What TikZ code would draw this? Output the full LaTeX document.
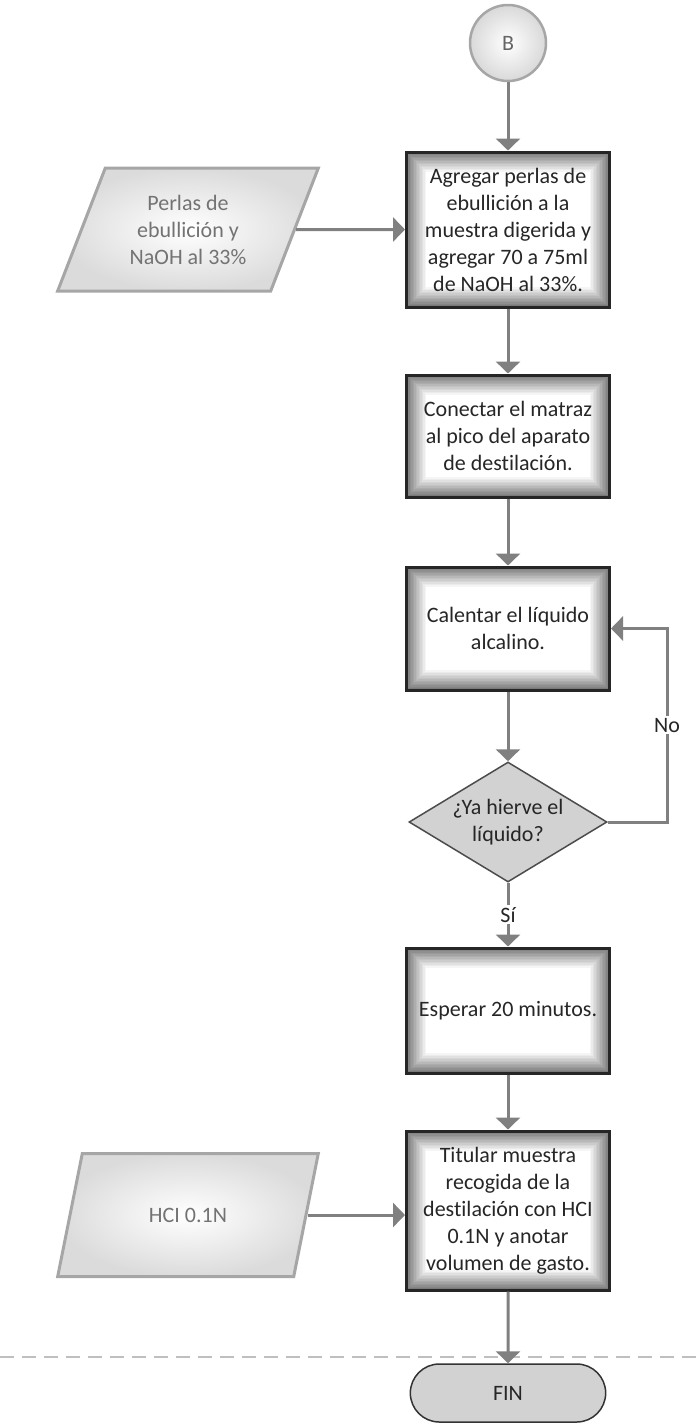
\documentclass[tikz,border=0pt]{standalone}
\usepackage{fontspec}
\setmainfont[Ligatures={NoCommon}]{Carlito}
\usetikzlibrary{arrows.meta,shapes.geometric,shapes.misc}

\begin{document}
\begin{tikzpicture}[x=1pt,y=-1pt,
    font=\fontsize{22}{27}\selectfont,
    flow/.style={draw=gray, line width=3pt, -{Triangle[length=12pt,width=24pt]}},
    proc/.style={rectangle, draw=black!85, line width=3pt, fill=white, minimum width=203pt,
        align=center, text=black!85, inner sep=0pt,
        path picture={\foreach \k [evaluate=\k as \shd using {int(52-4*\k)}] in {0,...,12}
            \draw[black!\shd, line width=1.6pt]
              ([shift={(\k*1.5pt+1pt,\k*1.5pt+1pt)}]path picture bounding box.south west) rectangle
              ([shift={(-\k*1.5pt-1pt,-\k*1.5pt-1pt)}]path picture bounding box.north east);}},
    inp/.style={trapezium, trapezium left angle=65, trapezium right angle=115, trapezium stretches=true,
        minimum width=261pt, minimum height=123pt, draw=gray!70, line width=3pt,
        inner color=white, outer color=gray!28, text=black!55, align=center},
    decision/.style={diamond, aspect=1.65, draw=black!70, line width=1.5pt, fill=gray!35,
        minimum width=198pt, minimum height=120pt, inner xsep=-6pt, inner ysep=0pt, align=center, text=black!85},
    term/.style={rounded rectangle, draw=black!80, line width=1.5pt, fill=gray!35,
        minimum width=202pt, minimum height=58pt, text=black!85},
    conn/.style={circle, minimum size=76pt, draw=gray!70, line width=2.5pt,
        inner color=white, outer color=gray!30, text=black!60},
    tag/.style={fill=white, inner sep=2pt, text=black!85}]
    \useasboundingbox (0,0) rectangle (698,1425);

    \node[conn] (conB) at (508,43) {B};
    \node[proc, minimum height=155pt] (perlas) at (508,229.5) {Agregar perlas de\\ebullición a la\\muestra digerida y\\agregar 70 a 75ml\\de NaOH al 33\%.};
    \node[inp] (inPerlas) at (188,229.5) {Perlas de\\ebullición y\\NaOH al 33\%};
    \node[proc, minimum height=122pt] (matraz) at (508,436) {Conectar el matraz\\al pico del aparato\\de destilación.};
    \node[proc, minimum height=123pt] (calentar) at (508,628.5) {Calentar el líquido\\alcalino.};
    \node[decision] (hierve) at (508,822) {¿Ya hierve el\\líquido?};
    \node[proc, minimum height=125pt] (esperar) at (508,1010.5) {Esperar 20 minutos.};
    \node[proc, minimum height=159pt] (titular) at (508,1210.5) {Titular muestra\\recogida de la\\destilación con HCI\\0.1N y anotar\\volumen de gasto.};
    \node[inp] (inHCl) at (188,1215) {HCI 0.1N};
    \node[term] (fin) at (508,1393) {FIN};

    \draw[gray!50, line width=1.5pt, dash pattern=on 14pt off 8pt] (0,1357) -- (698,1357);

    \draw[flow] (conB) -- (perlas);
    \draw[flow] (inPerlas.east) -- (perlas.west);
    \draw[flow] (perlas) -- (matraz);
    \draw[flow] (matraz) -- (calentar);
    \draw[flow] (calentar) -- (hierve);
    \draw[flow] (hierve.east) -- (667,822) |- (calentar.east) node[tag, pos=0.25] {No};
    \draw[flow] (hierve) -- (esperar) node[tag, midway] {Sí};
    \draw[flow] (esperar) -- (titular);
    \draw[flow] (inHCl.east) -- (inHCl.east -| titular.west);
    \draw[flow] (titular) -- (fin);
\end{tikzpicture}
\end{document}
